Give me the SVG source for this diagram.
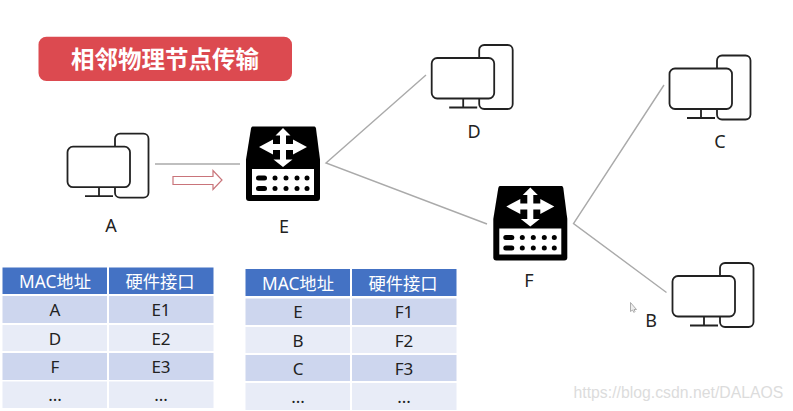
<svg xmlns="http://www.w3.org/2000/svg" width="793" height="411" viewBox="0 0 793 411">
<style>
.lbl{font-family:"Noto Sans","Noto Sans CJK SC",sans-serif;font-size:18px;fill:#222;text-anchor:middle}
.cell{font-family:"Noto Sans","Noto Sans CJK SC",sans-serif;font-size:17px;fill:#222;text-anchor:middle}
.hd{font-family:"Noto Sans","Noto Sans CJK SC",sans-serif;font-size:17.300px;fill:#fff;text-anchor:middle}
.conn{stroke:#aaa;stroke-width:1.400;fill:none}
.h{fill:#4472c4}.a{fill:#cdd6ee}.b{fill:#e8ecf7}
</style>
<defs>
<g id="pc" fill="none" stroke="#222" stroke-width="1.800">
<path d="M47.500 0V-8a5 5 0 0 1 5-5H76a5 5 0 0 1 5 5V46a5 5 0 0 1-5 5H52.500a5 5 0 0 1-5-5V40.500"/>
<rect x="0" y="0" width="62.500" height="40.500" rx="5.500"/>
<path d="M31.500 40.500V49M17.500 49.500H45.500"/>
</g>
<g id="router">
<path d="M6.500 0H68.500Q69.500 0 70 2L74 33V71.500Q74 74.500 71 74.500H3Q0 74.500 0 71.500V33L5 2Q5.500 0 6.500 0Z" fill="#000"/>
<rect x="6" y="42.500" width="62" height="26" fill="#fff"/>
<path d="M37 1.500L44.500 9H40V17.500H47V13L61 20.500L47 28V23.500H40V33H46.500L37 40.500L27.500 33H34V23.500H27V28L13 20.500L27 13V17.500H34V9H29.500Z" fill="#fff"/>
<g fill="#000">
<rect x="10" y="49" width="11" height="5" rx="2.500"/><rect x="10" y="59.500" width="11" height="5" rx="2.500"/>
<circle cx="29" cy="51.500" r="2.500"/><circle cx="40" cy="51.500" r="2.500"/><circle cx="51" cy="51.500" r="2.500"/><circle cx="61" cy="51.500" r="2.500"/>
<circle cx="29" cy="62" r="2.500"/><circle cx="40" cy="62" r="2.500"/><circle cx="51" cy="62" r="2.500"/><circle cx="61" cy="62" r="2.500"/>
</g>
</g>
</defs>
<rect width="793" height="411" fill="#fff"/>
<g id="title">
<rect x="38.500" y="36.700" width="253.500" height="44.300" rx="8" fill="#dc4a50"/>
<text x="165" y="67.500" font-family="'Noto Sans CJK SC',sans-serif" font-size="23.500" font-weight="700" fill="#fff" text-anchor="middle">相邻物理节点传输</text>
</g>
<g id="connectors">
<path class="conn" d="M155 164H240"/>
<path class="conn" d="M426 75L326 163L487 224"/>
<path class="conn" d="M664 85L573.500 223.500L666.500 292.500"/>
<path d="M173 176.500H213V170.500L222 180L213 189.500V184.500H173Z" fill="#fff" stroke="#c9747a" stroke-width="1.200"/>
</g>
<g id="node-A"><use href="#pc" x="67.500" y="146.700"/><text class="lbl" x="111" y="231.500">A</text></g>
<g id="node-E"><use href="#router" x="246" y="126.500"/><text class="lbl" x="284" y="232.500">E</text></g>
<g id="node-D"><use href="#pc" x="431.700" y="58"/><text class="lbl" x="474" y="138">D</text></g>
<g id="node-C"><use href="#pc" x="669.500" y="68.500"/><text class="lbl" x="720" y="148">C</text></g>
<g id="node-F"><use href="#router" x="493.300" y="186"/><text class="lbl" x="529" y="287">F</text></g>
<g id="node-B"><use href="#pc" x="672.500" y="276"/><text class="lbl" x="651" y="327">B</text></g>
<g id="table-left">
<rect class="h" x="2.500" y="267.500" width="104.500" height="26.500"/><rect class="h" x="109" y="267.500" width="104.500" height="26.500"/>
<rect class="a" x="2.500" y="296" width="104.500" height="27"/><rect class="a" x="109" y="296" width="104.500" height="27"/>
<rect class="b" x="2.500" y="325" width="104.500" height="26"/><rect class="b" x="109" y="325" width="104.500" height="26"/>
<rect class="a" x="2.500" y="353" width="104.500" height="27"/><rect class="a" x="109" y="353" width="104.500" height="27"/>
<rect class="b" x="2.500" y="381.500" width="104.500" height="26.500"/><rect class="b" x="109" y="381.500" width="104.500" height="26.500"/>
<text class="hd" x="55" y="288">MAC地址</text><text class="hd" x="160" y="288">硬件接口</text>
<text class="cell" x="55" y="316">A</text><text class="cell" x="161" y="316">E1</text>
<text class="cell" x="55" y="345">D</text><text class="cell" x="161" y="345">E2</text>
<text class="cell" x="55" y="373">F</text><text class="cell" x="161" y="373">E3</text>
<text class="cell" x="55" y="401">...</text><text class="cell" x="161" y="401">...</text>
</g>
<g id="table-right">
<rect class="h" x="245.500" y="269" width="104.500" height="27"/><rect class="h" x="352" y="269" width="104.500" height="27"/>
<rect class="a" x="245.500" y="298.500" width="104.500" height="26.500"/><rect class="a" x="352" y="298.500" width="104.500" height="26.500"/>
<rect class="b" x="245.500" y="327" width="104.500" height="26"/><rect class="b" x="352" y="327" width="104.500" height="26"/>
<rect class="a" x="245.500" y="355" width="104.500" height="26"/><rect class="a" x="352" y="355" width="104.500" height="26"/>
<rect class="b" x="245.500" y="383" width="104.500" height="27"/><rect class="b" x="352" y="383" width="104.500" height="27"/>
<text class="hd" x="298" y="290">MAC地址</text><text class="hd" x="403" y="290">硬件接口</text>
<text class="cell" x="298" y="318">E</text><text class="cell" x="404" y="318">F1</text>
<text class="cell" x="298" y="347">B</text><text class="cell" x="404" y="347">F2</text>
<text class="cell" x="298" y="375">C</text><text class="cell" x="404" y="375">F3</text>
<text class="cell" x="298" y="403">...</text><text class="cell" x="404" y="403">...</text>
</g>
<path d="M630.500 302.500V311.500L632.500 310L634 312.500L635 311.500L634 309.500H636.500Z" fill="#eee" stroke="#999" stroke-width="0.800"/>
<text x="573.500" y="398" font-family="'Liberation Sans',Arial,sans-serif" font-size="15.800" fill="#dcdcdc">https://blog.csdn.net/DALAOS</text>
</svg>
